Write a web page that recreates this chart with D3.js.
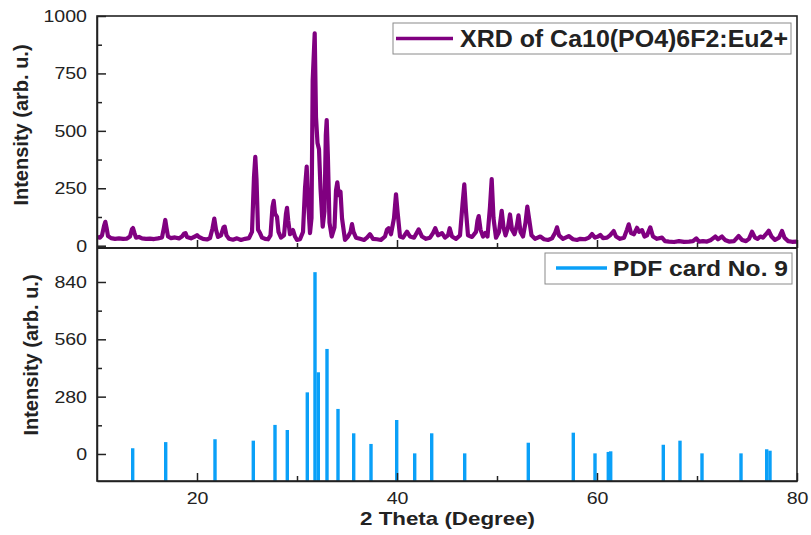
<!DOCTYPE html>
<html lang="en">
<head>
<meta charset="UTF-8">
<title>XRD of Ca10(PO4)6F2:Eu2+</title>
<script src="https://d3js.org/d3.v7.min.js"></script>
<style>
  body { margin: 0; background: #fff; }
  text { font-family: Arial, "Liberation Sans", sans-serif; fill: #222; }
</style>
</head>
<body>
<svg id="chart" width="811" height="535"></svg>
<script>
const xrdTheta = [10.0, 10.3, 10.5, 10.7, 10.83, 10.95, 11.1, 11.4, 11.8, 12.2, 12.6, 13.0, 13.3, 13.5, 13.6, 13.75, 13.9, 14.2, 14.5, 14.9,
  15.3, 15.7, 16.1, 16.5, 16.7, 16.83, 16.95, 17.1, 17.4, 17.8, 18.2, 18.5, 18.7, 18.85, 19.0, 19.4, 19.8, 20.0, 20.2, 20.6,
  21.0, 21.3, 21.55, 21.73, 21.9, 22.1, 22.4, 22.65, 22.77, 22.95, 23.2, 23.6, 24.0, 24.4, 24.8, 25.2, 25.5, 25.7, 25.83, 25.95,
  26.1, 26.3, 26.5, 26.8, 27.1, 27.35, 27.55, 27.67, 27.8, 28.0, 28.15, 28.4, 28.7, 28.9, 29.0, 29.12, 29.3, 29.6, 29.8, 30.0,
  30.3, 30.6, 30.8, 30.97, 31.1, 31.3, 31.45, 31.57, 31.77, 31.9, 32.05, 32.2, 32.35, 32.57, 32.75, 32.88, 32.97, 33.08, 33.25, 33.47,
  33.75, 33.9, 34.03, 34.18, 34.35, 34.5, 34.8, 35.1, 35.35, 35.5, 35.65, 35.9, 36.3, 36.7, 37.0, 37.3, 37.6, 38.0, 38.4, 38.8,
  39.0, 39.17, 39.4, 39.7, 39.9, 40.05, 40.3, 40.6, 41.0, 41.3, 41.7, 42.17, 42.5, 42.9, 43.3, 43.6, 43.83, 44.1, 44.5, 44.8,
  45.1, 45.27, 45.5, 45.9, 46.3, 46.55, 46.73, 46.9, 47.1, 47.5, 47.9, 48.05, 48.17, 48.35, 48.6, 48.83, 49.05, 49.3, 49.47, 49.65,
  49.9, 50.2, 50.47, 50.65, 50.85, 51.1, 51.3, 51.5, 51.75, 52.0, 52.15, 52.35, 52.6, 52.85, 53.03, 53.2, 53.45, 53.8, 54.33, 54.7,
  55.1, 55.5, 55.8, 56.0, 56.2, 56.6, 57.17, 57.6, 58.0, 58.33, 58.8, 59.2, 59.5, 59.8, 60.1, 60.33, 60.6, 61.0, 61.3, 61.67,
  61.9, 62.3, 62.7, 63.0, 63.17, 63.4, 63.7, 64.0, 64.2, 64.5, 64.75, 65.0, 65.33, 65.6, 66.0, 66.5, 66.8, 67.2, 67.7, 68.2,
  68.7, 69.2, 69.6, 69.93, 70.2, 70.6, 71.0, 71.4, 71.83, 72.1, 72.5, 72.8, 73.2, 73.7, 74.17, 74.5, 74.9, 75.2, 75.5, 75.8,
  76.05, 76.33, 76.6, 76.9, 77.17, 77.45, 77.8, 78.2, 78.5, 78.75, 79.1, 79.5, 80.0];
const xrdIntensity = [38, 35, 45, 85, 104, 80, 42, 33, 30, 32, 30, 31, 40, 72, 77, 55, 35, 38, 32, 30,
  31, 29, 32, 36, 80, 112, 78, 40, 33, 36, 32, 40, 52, 55, 38, 32, 40, 46, 38, 30,
  27, 33, 75, 118, 70, 38, 45, 80, 83, 45, 30, 26, 32, 25, 30, 33, 60, 300, 387, 290,
  70, 55, 35, 30, 28, 45, 170, 195, 140, 126, 60, 35, 45, 140, 165, 110, 50, 68, 40, 25,
  28, 60, 250, 344, 200, 55, 120, 721, 925, 560, 447, 420, 250, 83, 150, 480, 547, 400, 100, 40,
  80, 240, 276, 220, 235, 120, 25, 40, 60, 94, 60, 35, 30, 25, 35, 50, 30, 28, 25, 40,
  70, 76, 50, 120, 224, 150, 40, 35, 61, 40, 35, 71, 40, 30, 35, 55, 76, 45, 55, 35,
  45, 76, 40, 30, 45, 180, 267, 150, 45, 38, 60, 110, 129, 70, 40, 55, 40, 170, 290, 120,
  35, 60, 152, 80, 45, 80, 136, 70, 50, 90, 132, 60, 40, 100, 170, 120, 45, 30, 40, 28,
  25, 32, 55, 80, 45, 30, 42, 28, 25, 30, 28, 35, 51, 35, 40, 47, 33, 35, 45, 64,
  40, 30, 35, 70, 93, 55, 50, 78, 60, 68, 40, 45, 80, 40, 30, 35, 20, 18, 16, 20,
  17, 18, 20, 32, 18, 20, 18, 25, 40, 28, 40, 25, 18, 20, 42, 25, 20, 30, 61, 35,
  30, 40, 35, 50, 65, 40, 25, 35, 64, 35, 20, 17, 18];

// reference card lines
const pdfTheta = [13.57, 16.87, 21.8, 25.63, 27.8, 29.03, 31.03, 31.8, 32.13, 33.0, 34.1, 35.67, 37.4, 39.97,
  41.77, 43.47, 46.77, 53.13, 57.63, 59.8, 61.13, 61.37, 66.63, 68.3, 70.5, 74.4, 76.97, 77.3];
const pdfIntensity = [28, 58, 72, 65, 142, 117, 301, 888, 399, 513, 220, 101, 49, 166,
  3, 101, 3, 55, 104, 3, 10, 13, 45, 65, 3, 3, 23, 16];

const xMajor = [20, 40, 60, 80];
const xMinor = [30, 50, 70];
const topMajor = [0, 250, 500, 750, 1000];
const topMinor = [125, 375, 625, 875];
const botMajor = [0, 280, 560, 840];
const botMinor = [140, 420, 700];
const xrdLabel = "XRD of Ca10(PO4)6F2:Eu2+";
const pdfLabel = "PDF card No. 9";

const svg = d3.select("#chart");
const left = 97, right = 797, top1 = 16, mid = 248, bottom = 481;
const purple = "#800080", blue = "#0aa0f8", ink = "#222";
const fmt = d3.format("d");

const x = d3.scaleLinear().domain([10, 80]).range([left, right]);
const yTop = d3.scaleLinear().domain([-10, 1000]).range([mid, top1]);
const yBot = d3.scaleLinear().domain([-132, 1006]).range([bottom, mid]);

svg.append("clipPath").attr("id", "clipTop")
  .append("rect").attr("x", left).attr("y", top1).attr("width", right - left).attr("height", mid - top1);

// XRD curve
const line = d3.line()
  .x((d, i) => x(xrdTheta[i]))
  .y(d => yTop(d));

svg.append("path")
  .datum(xrdIntensity)
  .attr("clip-path", "url(#clipTop)")
  .attr("d", line)
  .style("fill", "none")
  .style("stroke", purple)
  .style("stroke-width", 4.2)
  .style("stroke-linejoin", "round");

// PDF sticks
svg.append("g").selectAll("line")
  .data(pdfIntensity)
  .join("line")
  .attr("x1", (d, i) => x(pdfTheta[i]))
  .attr("x2", (d, i) => x(pdfTheta[i]))
  .attr("y1", yBot(yBot.domain()[0]))
  .attr("y2", d => yBot(d))
  .style("stroke", blue)
  .style("stroke-width", 3.4);

// axes
function styleAxis(g, labels) {
  g.selectAll("path, line").style("stroke", ink).style("stroke-width", 1.5);
  g.selectAll("text").style("font-size", "17px").style("fill", ink);
  if (!labels) g.select(".domain").remove();
}

svg.append("g").attr("transform", `translate(${left},0)`)
  .call(d3.axisLeft(yTop).tickValues(topMajor).tickFormat(fmt).tickSizeInner(-9).tickSizeOuter(0).tickPadding(10))
  .call(g => styleAxis(g, true));
svg.append("g").attr("transform", `translate(${left},0)`)
  .call(d3.axisLeft(yTop).tickValues(topMinor).tickSize(-5).tickFormat(""))
  .call(g => styleAxis(g, false));

svg.append("g").attr("transform", `translate(${left},0)`)
  .call(d3.axisLeft(yBot).tickValues(botMajor).tickFormat(fmt).tickSizeInner(-9).tickSizeOuter(0).tickPadding(10))
  .call(g => styleAxis(g, true));
svg.append("g").attr("transform", `translate(${left},0)`)
  .call(d3.axisLeft(yBot).tickValues(botMinor).tickSize(-5).tickFormat(""))
  .call(g => styleAxis(g, false));

svg.append("g").attr("transform", `translate(0,${mid})`)
  .call(d3.axisBottom(x).tickValues(xMajor).tickSize(-8).tickFormat(""))
  .call(g => styleAxis(g, false));
svg.append("g").attr("transform", `translate(0,${mid})`)
  .call(d3.axisBottom(x).tickValues(xMinor).tickSize(-5).tickFormat(""))
  .call(g => styleAxis(g, false));

svg.append("g").attr("transform", `translate(0,${bottom})`)
  .call(d3.axisBottom(x).tickValues(xMajor).tickFormat(fmt).tickSizeInner(-8).tickSizeOuter(0).tickPadding(11))
  .call(g => styleAxis(g, true));
svg.append("g").attr("transform", `translate(0,${bottom})`)
  .call(d3.axisBottom(x).tickValues(xMinor).tickSize(-5).tickFormat(""))
  .call(g => styleAxis(g, false));

// frames
svg.append("rect")
  .attr("x", left).attr("y", top1).attr("width", right - left).attr("height", bottom - top1)
  .style("fill", "none").style("stroke", ink).style("stroke-width", 1.6);
svg.append("line")
  .attr("x1", left).attr("x2", right).attr("y1", mid).attr("y2", mid)
  .style("stroke", ink).style("stroke-width", 2);

// the source picture is a little wider than tall, stretch tick labels to match
svg.selectAll(".tick text").each(function() {
  const w = this.getComputedTextLength();
  d3.select(this).attr("textLength", w * 1.15).attr("lengthAdjust", "spacingAndGlyphs");
});

// titles
svg.append("text")
  .attr("transform", "translate(28,125) rotate(-90)")
  .attr("text-anchor", "middle")
  .style("font-size", "20px").style("font-weight", "bold")
  .text("Intensity (arb. u.)");
svg.append("text")
  .attr("transform", "translate(38,355) rotate(-90)")
  .attr("text-anchor", "middle")
  .style("font-size", "20px").style("font-weight", "bold")
  .text("Intensity (arb. u.)");
svg.append("text")
  .attr("x", 447.5).attr("y", 525)
  .attr("text-anchor", "middle")
  .attr("textLength", 175).attr("lengthAdjust", "spacingAndGlyphs")
  .style("font-size", "19px").style("font-weight", "bold")
  .text("2 Theta (Degree)");

// legends
function legend(box, lineX, lineY, textX, textY, textW, size, color, label) {
  const g = svg.append("g");
  g.append("rect")
    .attr("x", box[0]).attr("y", box[1]).attr("width", box[2] - box[0]).attr("height", box[3] - box[1])
    .style("fill", "#fff").style("stroke", "#8a8a8a").style("stroke-width", 1);
  g.append("line")
    .attr("x1", lineX[0]).attr("x2", lineX[1]).attr("y1", lineY).attr("y2", lineY)
    .style("stroke", color).style("stroke-width", 3.6);
  g.append("text")
    .attr("x", textX).attr("y", textY)
    .attr("textLength", textW).attr("lengthAdjust", "spacingAndGlyphs")
    .style("font-size", size + "px").style("font-weight", "bold")
    .text(label);
}
legend([393, 23, 791, 54], [396, 453], 38.5, 460, 47, 328, 23, purple, xrdLabel);
legend([545, 253, 792, 284], [556, 607], 268, 613, 276, 175, 22, blue, pdfLabel);
</script>
</body>
</html>
